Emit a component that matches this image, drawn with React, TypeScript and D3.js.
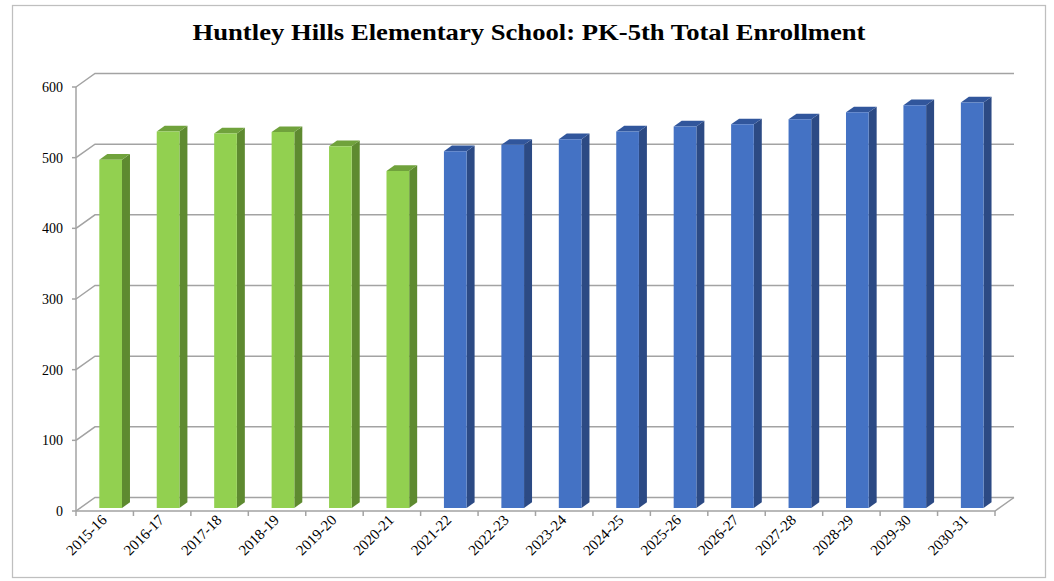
import React, { useRef, useEffect } from "react";
import * as d3 from "d3";

const categories = [
  "2015-16", "2016-17", "2017-18", "2018-19", "2019-20", "2020-21", "2021-22", "2022-23",
  "2023-24", "2024-25", "2025-26", "2026-27", "2027-28", "2028-29", "2029-30", "2030-31",
];
// actual enrollment (green) then projections (blue)
const actualEnrollment = [493, 533, 530, 532, 512, 477];
const projectedEnrollment = [505, 514, 522, 533, 540, 543, 550, 560, 570, 574];
const yTicks = [0, 100, 200, 300, 400, 500, 600];

const title = "Huntley Hills Elementary School: PK-5th Total Enrollment";

const WIDTH = 1054;
const HEIGHT = 581;
const DX = 19; // depth of the plot box
const DY = 13.5;
const FONT = "'Liberation Serif', 'Times New Roman', serif";

const colors = {
  actual: { front: "#92d050", top: "#70a23c", side: "#5e8a30" },
  projected: { front: "#4472c4", top: "#31569c", side: "#2c4a84" },
};

const App = () => {
  const svgRef = useRef(null);

  useEffect(() => {
    const svg = d3.select(svgRef.current);
    svg.selectAll("*").remove();

    const xScale = d3.scaleBand().domain(categories).range([76, 995]);
    const yScale = d3.scaleLinear().domain([0, 600]).range([511, 87]);
    const bw = xScale.bandwidth();

    // projection helper: plane point + depth fraction
    const p = (x, y, z) => [x + z * DX, y - z * DY];
    const poly = (pts) => "M" + pts.map((q) => q.join(",")).join("L") + "Z";

    // outer frame
    svg
      .append("rect")
      .attr("x", 12.5)
      .attr("y", 5.5)
      .attr("width", 1033)
      .attr("height", 572)
      .attr("fill", "white")
      .attr("stroke", "#bfbfbf")
      .attr("stroke-width", 1.25);

    // title
    svg
      .append("text")
      .attr("x", 529)
      .attr("y", 40)
      .attr("text-anchor", "middle")
      .attr("textLength", 673)
      .attr("lengthAdjust", "spacingAndGlyphs")
      .style("font-family", FONT)
      .style("font-weight", "bold")
      .style("font-size", "24px")
      .style("fill", "#000")
      .text(title);

    const gridColor = "#a3a3a3";
    const x0 = xScale.range()[0];
    const x1 = xScale.range()[1];

    // gridlines on the left wall + back wall
    yTicks.forEach((t) => {
      const y = yScale(t);
      svg
        .append("path")
        .attr("d", `M${x0},${y}L${x0 + DX},${y - DY}L${x1 + DX},${y - DY}`)
        .attr("fill", "none")
        .attr("stroke", gridColor)
        .attr("stroke-width", 1.5);
      svg
        .append("line")
        .attr("x1", x0 - 4)
        .attr("x2", x0)
        .attr("y1", y)
        .attr("y2", y)
        .attr("stroke", gridColor)
        .attr("stroke-width", 1.5);
      svg
        .append("text")
        .attr("x", 63)
        .attr("y", y)
        .attr("dy", "0.35em")
        .attr("text-anchor", "end")
        .style("font-family", FONT)
        .style("font-size", "14px")
        .style("fill", "#000")
        .text(t);
    });

    // y axis line
    svg
      .append("line")
      .attr("x1", x0)
      .attr("x2", x0)
      .attr("y1", yScale(600))
      .attr("y2", yScale(0))
      .attr("stroke", gridColor)
      .attr("stroke-width", 1.5);

    // floor front edge + right edge
    svg
      .append("path")
      .attr("d", `M${x0},${yScale(0)}L${x1},${yScale(0)}L${x1 + DX},${yScale(0) - DY}`)
      .attr("fill", "none")
      .attr("stroke", gridColor)
      .attr("stroke-width", 1.5);

    // x ticks at category boundaries
    const bounds = categories.map((c) => xScale(c)).concat([x1]);
    bounds.forEach((bx) => {
      svg
        .append("line")
        .attr("x1", bx)
        .attr("x2", bx)
        .attr("y1", yScale(0))
        .attr("y2", yScale(0) + 5)
        .attr("stroke", gridColor)
        .attr("stroke-width", 1.5);
    });

    // bars
    const values = actualEnrollment.concat(projectedEnrollment);
    const z0 = 0.22;
    const z1 = 0.64;
    values.forEach((v, i) => {
      const c = i < actualEnrollment.length ? colors.actual : colors.projected;
      const left = xScale(categories[i]) + bw * 0.333;
      const right = left + bw * 0.395;
      const top = yScale(v);
      const base = yScale(0);

      svg
        .append("path")
        .attr("d", poly([p(right, top, z0), p(right, top, z1), p(right, base, z1), p(right, base, z0)]))
        .attr("fill", c.side);
      svg
        .append("path")
        .attr("d", poly([p(left, top, z0), p(right, top, z0), p(right, top, z1), p(left, top, z1)]))
        .attr("fill", c.top);
      svg
        .append("path")
        .attr("d", poly([p(left, top, z0), p(right, top, z0), p(right, base, z0), p(left, base, z0)]))
        .attr("fill", c.front);
    });

    // category labels
    categories.forEach((c) => {
      const cx = xScale(c) + bw / 2 + 3;
      svg
        .append("text")
        .attr("transform", `translate(${cx},${521}) rotate(-45)`)
        .attr("text-anchor", "end")
        .style("font-family", FONT)
        .style("font-size", "15px")
        .style("fill", "#000")
        .text(c);
    });
  }, []);

  return (
    <svg
      ref={svgRef}
      width={WIDTH}
      height={HEIGHT}
      style={{ position: "absolute", left: 0, top: 0, background: "white" }}
    />
  );
};

export default App;
